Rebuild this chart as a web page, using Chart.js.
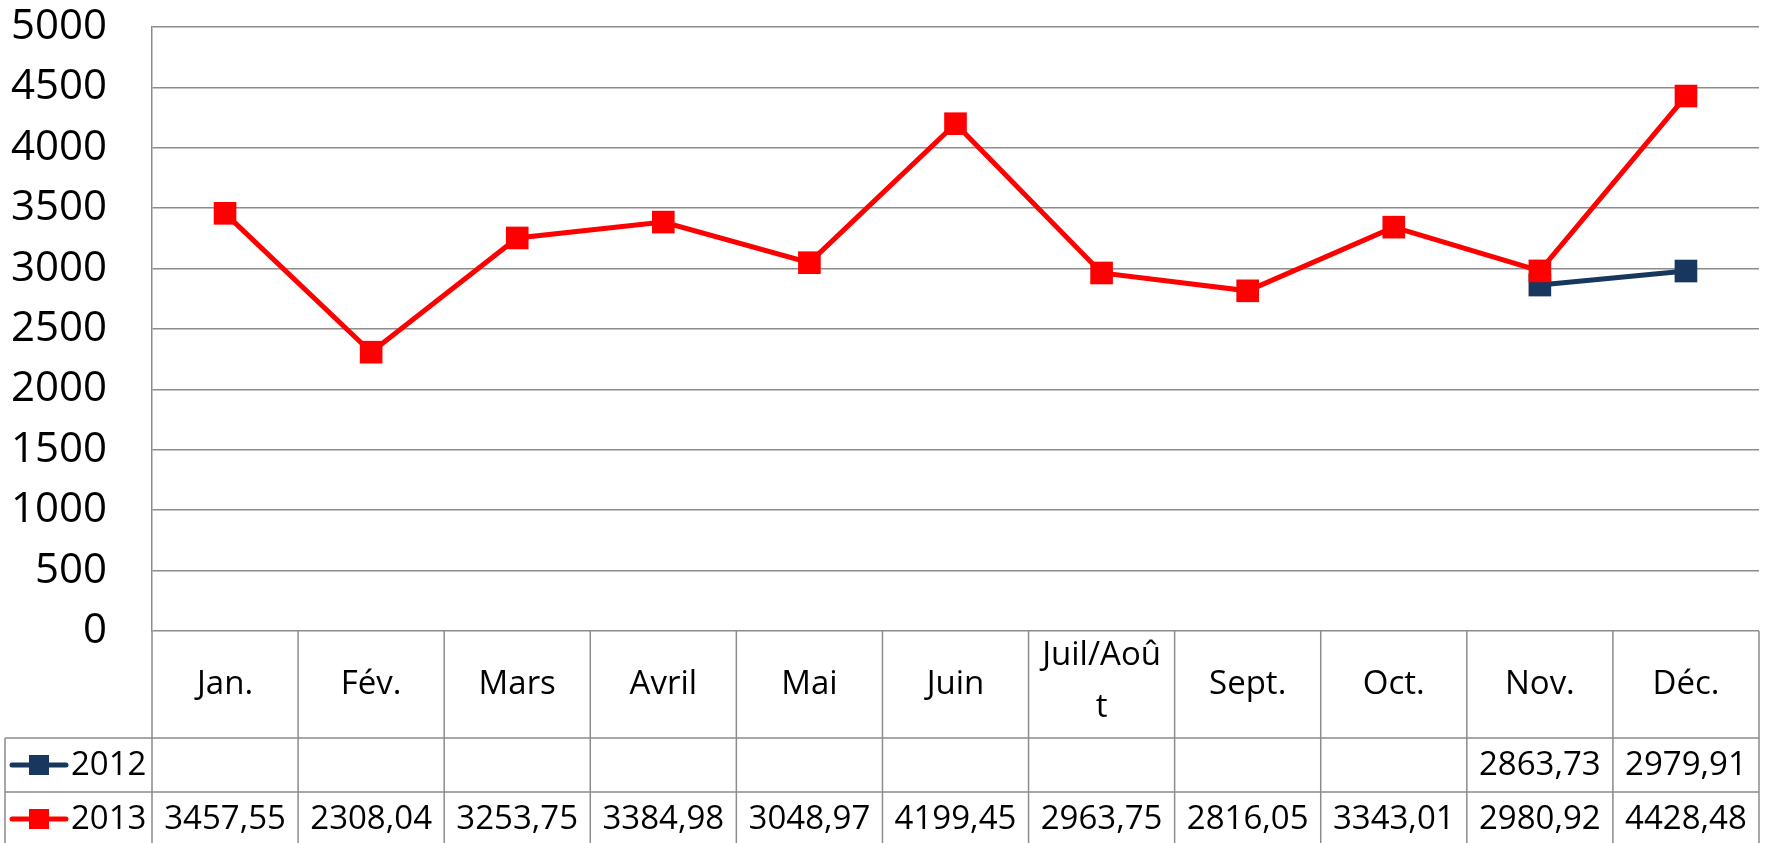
<!DOCTYPE html>
<html>
<head>
<meta charset="utf-8">
<script src="https://cdn.jsdelivr.net/npm/chart.js"></script>
<style>
  html, body { margin: 0; padding: 0; background: #ffffff; }
  #wrap { width: 1765px; height: 843px; }
</style>
</head>
<body>
<div id="wrap"><canvas id="chart" width="1765" height="843"></canvas></div>
<script>
// Monthly values, 2012 only known for Nov/Dec
const months = ['Jan.', 'Fév.', 'Mars', 'Avril', 'Mai', 'Juin', 'Juil/Août', 'Sept.', 'Oct.', 'Nov.', 'Déc.'];
const values2012 = [null, null, null, null, null, null, null, null, null, 2863.73, 2979.91];
const values2013 = [3457.55, 2308.04, 3253.75, 3384.98, 3048.97, 4199.45, 2963.75, 2816.05, 3343.01, 2980.92, 4428.48];
const yTicks = [0, 500, 1000, 1500, 2000, 2500, 3000, 3500, 4000, 4500, 5000];

const NAVY = '#17375E';
const RED = '#FF0000';
const GRID = '#8C8C8C';
const FONT = '"Open Sans", "Liberation Sans", sans-serif';

function fmt(v) {
    return v == null ? '' : v.toFixed(2).replace('.', ',');
}

// Draws the data table under the plot (Excel style)
const dataTable = {
    id: 'dataTable',
    afterDraw(chart) {
        const ctx = chart.ctx;
        const area = chart.chartArea;
        const x = chart.scales.x;
        const n = months.length;
        const colW = (area.right - area.left) / n;
        const top = area.bottom;
        const headerBottom = top + 107;
        const row1Bottom = headerBottom + 54;
        const bottom = chart.height + 2;
        const legendLeft = 5;

        ctx.save();
        ctx.strokeStyle = GRID;
        ctx.lineWidth = 1.5;

        // horizontal lines
        ctx.beginPath();
        ctx.moveTo(legendLeft, headerBottom); ctx.lineTo(area.right, headerBottom);
        ctx.moveTo(legendLeft, row1Bottom); ctx.lineTo(area.right, row1Bottom);
        // vertical lines
        for (let i = 0; i <= n; i++) {
            const bx = area.left + i * colW;
            ctx.moveTo(bx, top); ctx.lineTo(bx, bottom);
        }
        ctx.moveTo(legendLeft, headerBottom); ctx.lineTo(legendLeft, bottom);
        ctx.stroke();

        // header labels
        ctx.fillStyle = '#000';
        ctx.textAlign = 'center';
        ctx.textBaseline = 'middle';
        ctx.font = '33px ' + FONT;
        months.forEach((m, i) => {
            const cx = x.getPixelForValue(i);
            if (ctx.measureText(m).width > colW - 20) {
                // wrap like Excel does
                let cut = m.length - 1;
                while (cut > 1 && ctx.measureText(m.slice(0, cut)).width > colW - 20) cut--;
                ctx.fillText(m.slice(0, cut), cx, top + 25);
                ctx.fillText(m.slice(cut), cx, top + 77);
            } else {
                ctx.fillText(m, cx, top + 54);
            }
        });

        // value rows
        const rows = [
            { label: '2012', data: values2012, color: NAVY, y: (headerBottom + row1Bottom) / 2 },
            { label: '2013', data: values2013, color: RED, y: row1Bottom + 27 }
        ];
        rows.forEach(r => {
            r.data.forEach((v, i) => {
                ctx.fillText(fmt(v), x.getPixelForValue(i), r.y + 1);
            });
            // legend key
            ctx.strokeStyle = r.color;
            ctx.lineWidth = 5;
            ctx.lineCap = 'round';
            ctx.beginPath();
            ctx.moveTo(12, r.y); ctx.lineTo(66, r.y);
            ctx.stroke();
            ctx.fillStyle = r.color;
            ctx.fillRect(29, r.y - 10, 20, 20);
            ctx.fillStyle = '#000';
            ctx.textAlign = 'left';
            ctx.fillText(r.label, 71, r.y + 1);
            ctx.textAlign = 'center';
        });
        ctx.restore();
    }
};

const ctx = document.getElementById('chart');
new Chart(ctx, {
    type: 'line',
    data: {
        labels: months,
        datasets: [
            {
                label: '2012',
                data: values2012,
                borderColor: NAVY,
                backgroundColor: NAVY,
                borderWidth: 5,
                pointStyle: 'rect',
                pointRadius: 16,
                pointBorderWidth: 0,
                order: 1
            },
            {
                label: '2013',
                data: values2013,
                borderColor: RED,
                backgroundColor: RED,
                borderWidth: 5,
                pointStyle: 'rect',
                pointRadius: 16,
                pointBorderWidth: 0,
                order: 0
            }
        ]
    },
    options: {
        responsive: false,
        animation: false,
        layout: {
            autoPadding: false,
            padding: { top: 27, right: 6, bottom: 212, left: 0 }
        },
        plugins: {
            legend: { display: false },
            tooltip: { enabled: false }
        },
        scales: {
            x: {
                display: false,
                offset: true
            },
            y: {
                min: 0,
                max: 5000,
                afterBuildTicks(scale) {
                    scale.ticks = yTicks.map(v => ({ value: v }));
                },
                afterFit(scale) {
                    scale.width = 152;
                    scale.paddingTop = 0;
                    scale.paddingBottom = 0;
                },
                grid: {
                    color: GRID,
                    lineWidth: 1.5,
                    drawTicks: false
                },
                border: { display: true, color: GRID, width: 1.5 },
                ticks: {
                    padding: 45,
                    color: '#000',
                    font: { size: 42, family: FONT },
                    callback: v => String(v)
                }
            }
        }
    },
    plugins: [dataTable]
});
</script>
</body>
</html>
